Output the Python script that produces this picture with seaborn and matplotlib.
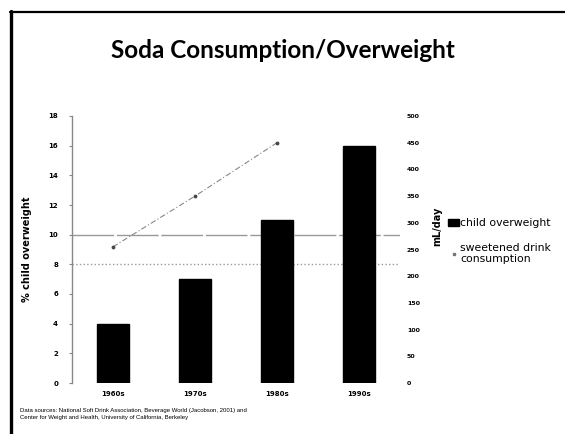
import matplotlib
matplotlib.use("Agg")
import matplotlib.pyplot as plt
import seaborn as sns
import pandas as pd
from matplotlib.lines import Line2D
from matplotlib.patches import Patch

# ---- data ----
decades = ["1960s", "1970s", "1980s", "1990s"]
child_overweight = [4, 7, 11, 16]
drink_decades = ["1960s", "1970s", "1980s"]
drink_ml = [255, 350, 450]
ref_levels = [10, 8]
left_ticks = [0, 2, 4, 6, 8, 10, 12, 14, 16, 18]
right_ticks = [0, 50, 100, 150, 200, 250, 300, 350, 400, 450, 500]
title = "Soda Consumption/Overweight"
source = ("Data sources: National Soft Drink Association, Beverage World (Jacobson, 2001) and\n"
          "Center for Weight and Health, University of California, Berkeley")

sns.set_style("white")
plt.rcParams["font.family"] = ["DejaVu Sans"]
plt.rcParams.update({"text.color": "black", "axes.labelcolor": "black",
                     "xtick.color": "black", "ytick.color": "black"})

fig = plt.figure(figsize=(5.65, 4.34), dpi=100)
W, H = 565, 434
ax = fig.add_axes([72 / W, 1 - 383 / H, 328 / W, 267 / H])

df = pd.DataFrame({"decade": decades, "value": child_overweight})
sns.barplot(data=df, x="decade", y="value", ax=ax, color="black",
            width=0.4, saturation=1, edgecolor="black")

for lv, ls in zip(ref_levels, [(0, (30, 2)), ":"]):
    ax.axhline(lv, color="#999999", lw=1.0, ls=ls, zorder=0.5)

ax.set_ylim(0, 18)
ax.set_yticks(left_ticks)
ax.set_xlim(-0.5, 3.5)
ax.set_xlabel("")
ax.set_ylabel("% child overweight", fontsize=7, fontweight="bold", labelpad=12)
ax.tick_params(axis="y", labelsize=5, pad=8, length=2, color="#888888", left=True)
ax.tick_params(axis="x", labelsize=5, pad=6, length=0)
for lab in ax.get_xticklabels() + ax.get_yticklabels():
    lab.set_fontweight("bold")
for s in ["top", "right", "bottom"]:
    ax.spines[s].set_visible(False)
ax.spines["left"].set_color("#888888")
ax.spines["left"].set_linewidth(1.0)

ax2 = ax.twinx()
pos = [decades.index(d) for d in drink_decades]
ldf = pd.DataFrame({"x": pos, "ml": drink_ml})
sns.lineplot(data=ldf, x="x", y="ml", ax=ax2, color="#888888", lw=0.8,
             linestyle=(0, (5, 2, 1, 2)), marker="o", markersize=2,
             markeredgecolor="#444444", markerfacecolor="#444444")
ax2.set_ylim(0, 500)
ax2.set_yticks(right_ticks)
ax2.set_xlim(-0.5, 3.5)
ax2.set_xlabel("")
ax2.set_ylabel("mL/day", fontsize=7, fontweight="bold")
ax2.yaxis.set_label_coords(1.098, 0.588)
ax2.tick_params(axis="y", labelsize=4.5, pad=5, length=0)
for lab in ax2.get_yticklabels():
    lab.set_fontweight("bold")
for s in ax2.spines.values():
    s.set_visible(False)

handles = [Patch(facecolor="black", edgecolor="black"),
           Line2D([], [], color="#777777", marker="s", markersize=1.5, lw=0)]
fig.legend(handles, ["child overweight", "sweetened drink\nconsumption"],
           loc="upper left", bbox_to_anchor=(443 / W, 1 - 213 / H),
           frameon=False, fontsize=7.8, handlelength=1.0, handleheight=0.6,
           handletextpad=0.1, labelspacing=1.3, borderpad=0)

fig.text(283 / W, 1 - 50 / H, title, ha="center", va="center",
         fontsize=17.5, fontweight="bold", family="Lato")
fig.text(20 / W, 1 - 414 / H, source, ha="left", va="center",
         fontsize=4.3, family="Liberation Sans", linespacing=1.5)

fig.add_artist(Line2D([10 / W, 1], [1 - 12 / H, 1 - 12 / H], color="black", lw=1.6,
                      transform=fig.transFigure))
fig.add_artist(Line2D([11 / W, 11 / W], [0, 1 - 11 / H], color="black", lw=2.4,
                      transform=fig.transFigure))

fig.savefig("out.png", dpi=100)
